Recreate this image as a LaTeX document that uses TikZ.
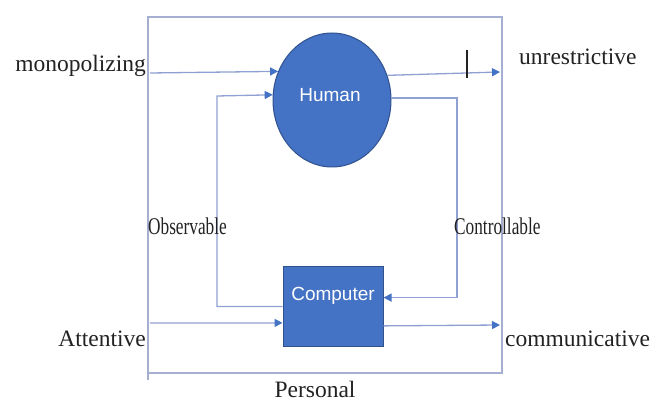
\documentclass[tikz,border=0pt]{standalone}
\usepackage{fontspec}
\setmainfont{Liberation Serif}
\newfontfamily\labelsans{Liberation Sans}
\usetikzlibrary{shapes.geometric,arrows.meta}
\definecolor{boxblue}{HTML}{4472C4}
\definecolor{boxedge}{HTML}{2F528F}
\definecolor{wire}{RGB}{143,160,210}
\definecolor{framewire}{RGB}{165,175,210}
\definecolor{ink}{RGB}{34,34,34}
\tikzset{
  blob/.style={ellipse, fill=boxblue, draw=boxedge, line width=1pt,
    minimum width=118pt, minimum height=134pt, inner sep=0pt},
  unit/.style={rectangle, fill=boxblue, draw=boxedge, line width=1pt,
    minimum width=100pt, minimum height=79pt, inner sep=0pt},
  inlabel/.style={text=white, font=\labelsans\fontsize{19}{22}\selectfont},
  word/.style={text=ink, inner sep=0pt, font=\fontsize{23.5}{27}\selectfont},
  sideword/.style={text=ink, inner sep=0pt, font=\fontsize{24}{27}\selectfont, xscale=0.72},
  wireline/.style={draw=wire, line width=1.3pt},
  frameline/.style={draw=framewire, line width=1.2pt},
  flow/.style={wireline, -{Triangle[length=8pt,width=8pt,fill=boxblue,color=boxblue]}}
}
\begin{document}
\begin{tikzpicture}[x=1pt,y=-1pt]
\useasboundingbox (0,0) rectangle (656,403);

% outer frame
\draw[frameline] (148,17) rectangle (502,373);
\draw[frameline] (148,373) -- (148,380);

% main blocks
\node[blob] (human) at (332,100) {};
\node[inlabel] (humantxt) at (330,95) {Human};
\node[unit] (comp) at (333,306.5) {};
\node[inlabel] (comptxt) at (333,296) {Computer};

% free ends of the connectors
\coordinate (mono) at (150,73);
\coordinate (unres) at (500,72);
\coordinate (att) at (150,323);
\coordinate (comm) at (500,325);
\coordinate (obs) at (217,96);
\coordinate (ctrl) at (457,250);

% connectors
\draw[flow] (mono) -- (human.152);
\draw[flow] (human.24) -- (unres);
\draw[flow] (comp.west) -| (obs) -- (human.175);
\draw[flow] (human.2) -| (ctrl) |- (comp.10);
\draw[flow] (att) -- (comp.198);
\draw[flow] (comp.-21) -- (comm);

% tick on the upper output
\draw[ink, line width=1.2pt] (467,50) -- (467,78);

% labels
\node[word, anchor=base east] (lmono) at (146,72) {monopolizing};
\node[word, anchor=base west] (lunres) at (519,65) {unrestrictive};
\node[word, anchor=base east] (latt) at (146,346) {Attentive};
\node[word, anchor=base west] (lcomm) at (505,346) {communicative};
\node[word, anchor=base] (lpers) at (315,397) {Personal};
\node[sideword, anchor=base west] (lobs) at (148,235) {Observable};
\node[sideword, anchor=base west] (lctrl) at (454,235) {Controllable};
\end{tikzpicture}
\end{document}
